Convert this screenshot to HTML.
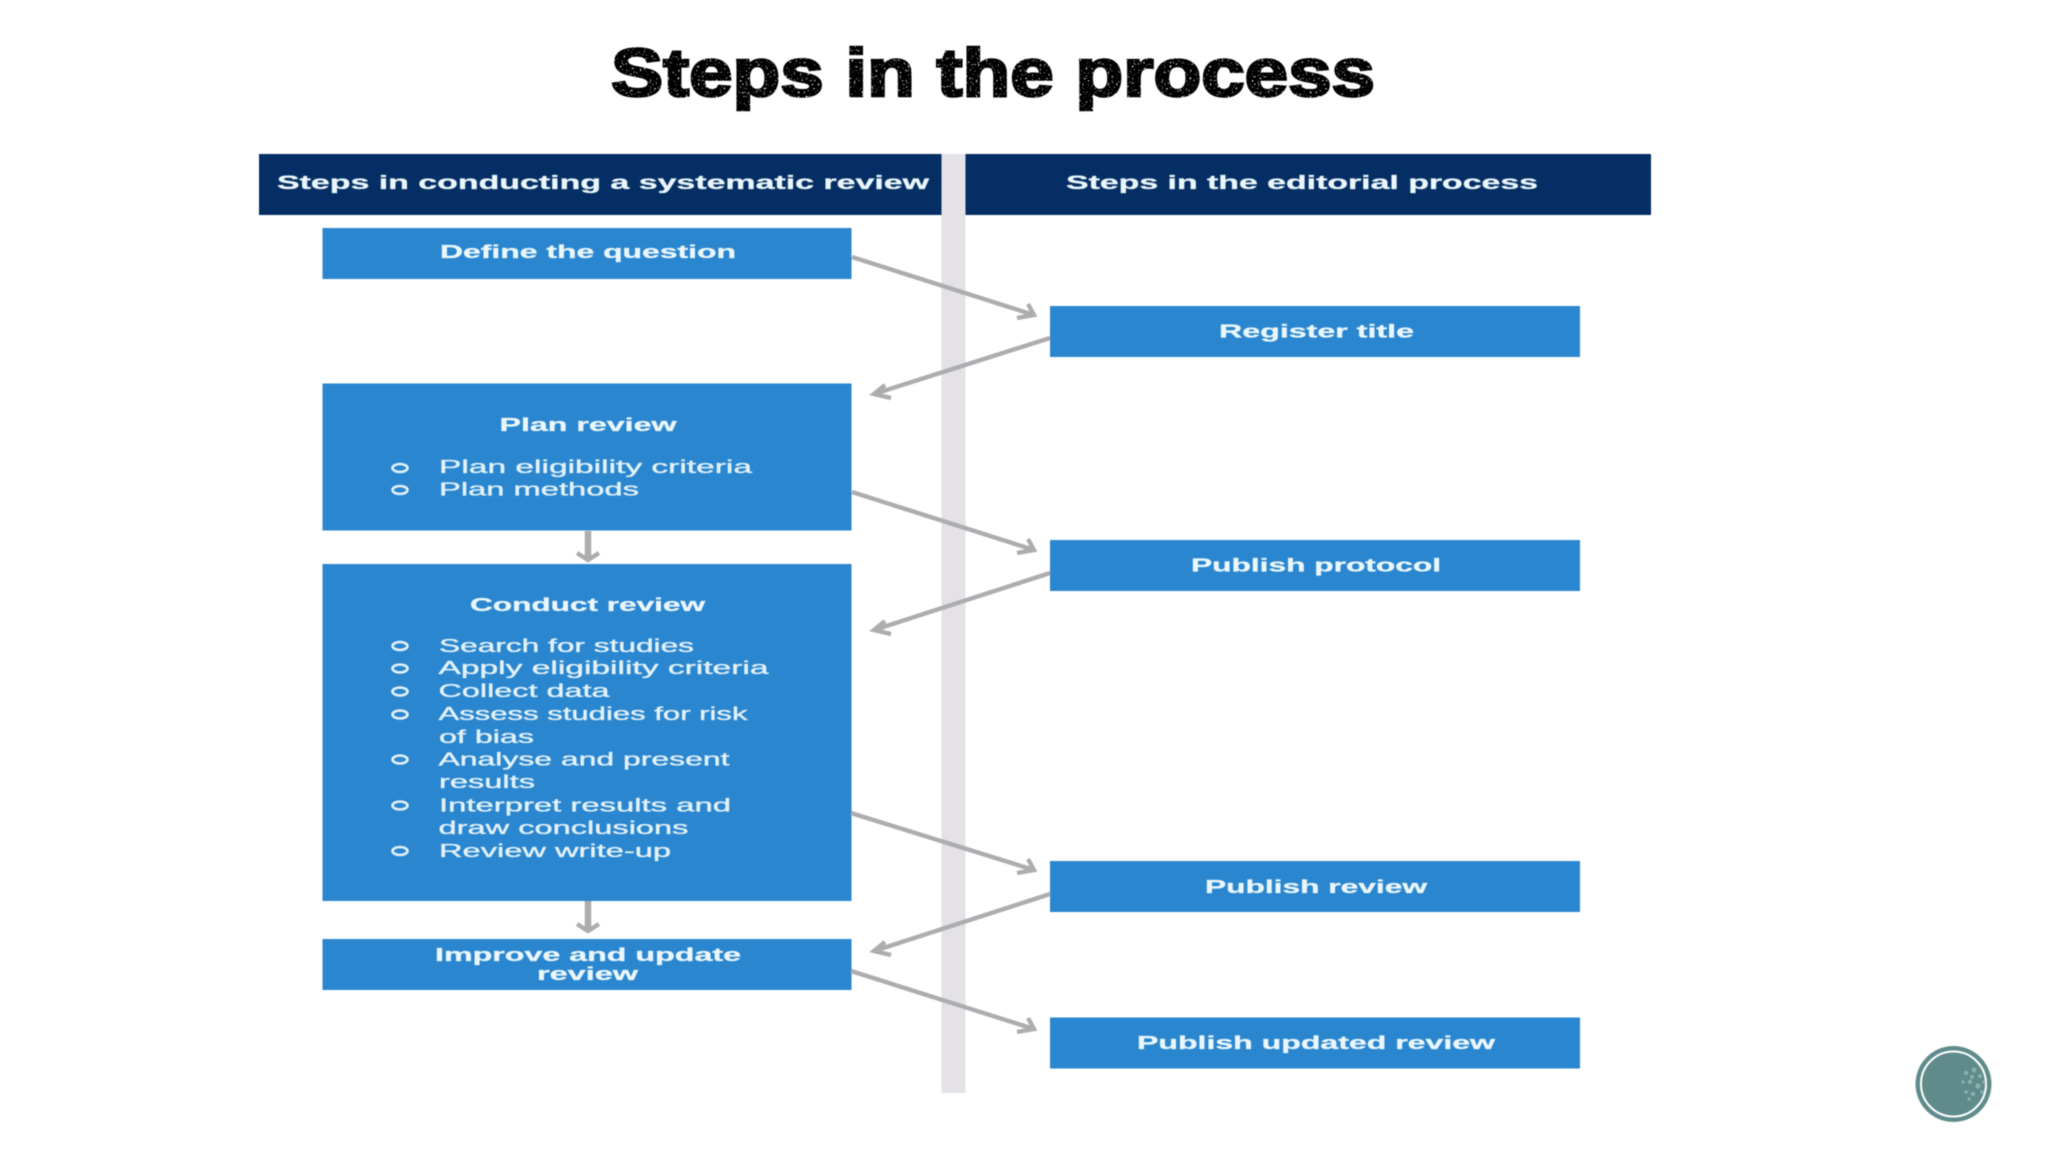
<!DOCTYPE html>
<html lang="en"><head><meta charset="utf-8"><title>Steps in the process</title>
<style>
html,body{margin:0;padding:0;background:#fff;width:2048px;height:1152px;overflow:hidden}
svg{display:block;filter:blur(.6px)}
text{font-family:"Liberation Sans",Arial,sans-serif}
.b{font-weight:700;fill:#e9f6fb;font-size:18px;stroke:#e9f6fb;stroke-width:.3}
.n{fill:#e2f1f8;font-size:18px;stroke:#e2f1f8;stroke-width:.35}
.ar{fill:none;stroke:#adadb0;stroke-width:4.4;stroke-linejoin:miter}
.o{fill:none;stroke:#e2f1f8;stroke-width:2.6}
.box{fill:#2a86cf}
</style></head><body>
<svg width="2048" height="1152" viewBox="0 0 2048 1152" xmlns="http://www.w3.org/2000/svg">
<defs>
<filter id="grunge" x="-2%" y="-10%" width="104%" height="120%">
<feTurbulence type="fractalNoise" baseFrequency=".5" numOctaves="2" seed="7" result="t"/>
<feColorMatrix in="t" type="matrix" values="0 0 0 0 0  0 0 0 0 0  0 0 0 0 0  0 0 0 -14 4.6" result="m"/>
<feComposite in="SourceGraphic" in2="m" operator="out"/>
</filter>
</defs>
<rect width="2048" height="1152" fill="#fff"/>
<text x="611" y="96" font-size="68" font-weight="700" fill="#000" stroke="#000" stroke-width="2.6" textLength="764" lengthAdjust="spacingAndGlyphs" filter="url(#grunge)">Steps in the process</text>

<rect x="941.5" y="154" width="24" height="939" fill="#e4e2e6"/>
<rect x="259" y="154" width="682.5" height="61" fill="#052f64"/>
<rect x="965.5" y="154" width="685.5" height="61" fill="#052f64"/>
<text class="b" x="277" y="189" style="font-size:19px" textLength="652" lengthAdjust="spacingAndGlyphs">Steps in conducting a systematic review</text>
<text class="b" x="1066" y="189" style="font-size:19px" textLength="472" lengthAdjust="spacingAndGlyphs">Steps in the editorial process</text>

<rect class="box" x="322.5" y="228" width="529" height="51"/>
<rect class="box" x="322.5" y="383.5" width="529" height="147"/>
<rect class="box" x="322.5" y="564" width="529" height="337"/>
<rect class="box" x="322.5" y="939" width="529" height="51"/>
<rect class="box" x="1050" y="306" width="530" height="51"/>
<rect class="box" x="1050" y="540" width="530" height="51"/>
<rect class="box" x="1050" y="861" width="530" height="51"/>
<rect class="box" x="1050" y="1017.5" width="530" height="51"/>

<text class="b" x="440" y="258" textLength="296" lengthAdjust="spacingAndGlyphs">Define the question</text>
<text class="b" x="1219" y="337.5" textLength="195" lengthAdjust="spacingAndGlyphs">Register title</text>
<text class="b" x="499.5" y="431" textLength="177" lengthAdjust="spacingAndGlyphs">Plan review</text>
<text class="b" x="1191" y="571.5" textLength="250" lengthAdjust="spacingAndGlyphs">Publish protocol</text>
<text class="b" x="470" y="611" textLength="235" lengthAdjust="spacingAndGlyphs">Conduct review</text>
<text class="b" x="1205" y="893" textLength="222" lengthAdjust="spacingAndGlyphs">Publish review</text>
<text class="b" x="435" y="961" textLength="306" lengthAdjust="spacingAndGlyphs">Improve and update</text>
<text class="b" x="537" y="980" textLength="101" lengthAdjust="spacingAndGlyphs">review</text>
<text class="b" x="1137" y="1049" textLength="358" lengthAdjust="spacingAndGlyphs">Publish updated review</text>

<text class="n" x="439" y="473" textLength="313" lengthAdjust="spacingAndGlyphs">Plan eligibility criteria</text>
<text class="n" x="439" y="495.5" textLength="200" lengthAdjust="spacingAndGlyphs">Plan methods</text>
<text class="n" x="439" y="652" textLength="255" lengthAdjust="spacingAndGlyphs">Search for studies</text>
<text class="n" x="438.5" y="674" textLength="330" lengthAdjust="spacingAndGlyphs">Apply eligibility criteria</text>
<text class="n" x="438.5" y="697" textLength="171" lengthAdjust="spacingAndGlyphs">Collect data</text>
<text class="n" x="438.5" y="720" textLength="309" lengthAdjust="spacingAndGlyphs">Assess studies for risk</text>
<text class="n" x="439" y="743" textLength="95" lengthAdjust="spacingAndGlyphs">of bias</text>
<text class="n" x="438.5" y="765.5" textLength="291" lengthAdjust="spacingAndGlyphs">Analyse and present</text>
<text class="n" x="439" y="788" textLength="96" lengthAdjust="spacingAndGlyphs">results</text>
<text class="n" x="439" y="811.5" textLength="292" lengthAdjust="spacingAndGlyphs">Interpret results and</text>
<text class="n" x="438.5" y="834" textLength="250" lengthAdjust="spacingAndGlyphs">draw conclusions</text>
<text class="n" x="439" y="857" textLength="232" lengthAdjust="spacingAndGlyphs">Review write-up</text>

<g class="o">
<ellipse cx="400" cy="468" rx="7.5" ry="4"/>
<ellipse cx="400" cy="490" rx="7.5" ry="4"/>
<ellipse cx="400" cy="646" rx="7.5" ry="4"/>
<ellipse cx="400" cy="668.5" rx="7.5" ry="4"/>
<ellipse cx="400" cy="691.5" rx="7.5" ry="4"/>
<ellipse cx="400" cy="714.5" rx="7.5" ry="4"/>
<ellipse cx="400" cy="759.5" rx="7.5" ry="4"/>
<ellipse cx="400" cy="805.5" rx="7.5" ry="4"/>
<ellipse cx="400" cy="851" rx="7.5" ry="4"/>
</g>

<g class="ar">
<path d="M852 257L1034 315M1017 318L1034 315L1028 304"/>
<path d="M1050 338L874 394M891 398L874 394L885 385"/>
<path d="M852 492L1034 550M1017 553L1034 550L1028 539"/>
<path d="M1050 573L874 630M891 634L874 630L885 621"/>
<path d="M851 813L1034 870M1017 873L1034 870L1028 859"/>
<path d="M1050 894L874 951M891 955L874 951L885 942"/>
<path d="M851 971L1034 1029M1017 1032L1034 1029L1028 1018"/>
</g>
<g fill="none" stroke="#adadb0" stroke-linejoin="miter">
<path d="M588 531V558" stroke-width="6.5"/><path d="M577 553L588 560L599 553" stroke-width="4.4"/>
<path d="M588 901V929" stroke-width="6.5"/><path d="M577 924L588 931L599 924" stroke-width="4.4"/>
</g>

<circle cx="1953.5" cy="1084" r="38" fill="#5f8c8b"/>
<circle cx="1953.5" cy="1084" r="32.5" fill="none" stroke="#fff" stroke-width="2"/>
<g fill="#a9c6c4" opacity=".6">
<circle cx="1966" cy="1073" r="2.2"/><circle cx="1974" cy="1070" r="2.4"/><circle cx="1980" cy="1076" r="2.2"/>
<circle cx="1970" cy="1082" r="2.2"/><circle cx="1978" cy="1086" r="2.6"/><circle cx="1973" cy="1094" r="2.2"/>
<circle cx="1966" cy="1092" r="1.8"/><circle cx="1982" cy="1092" r="1.8"/><circle cx="1963" cy="1082" r="1.6"/>
<circle cx="1972" cy="1077" r="2"/><circle cx="1984" cy="1082" r="1.8"/><circle cx="1969" cy="1099" r="1.6"/>
</g>
</svg>
</body></html>
